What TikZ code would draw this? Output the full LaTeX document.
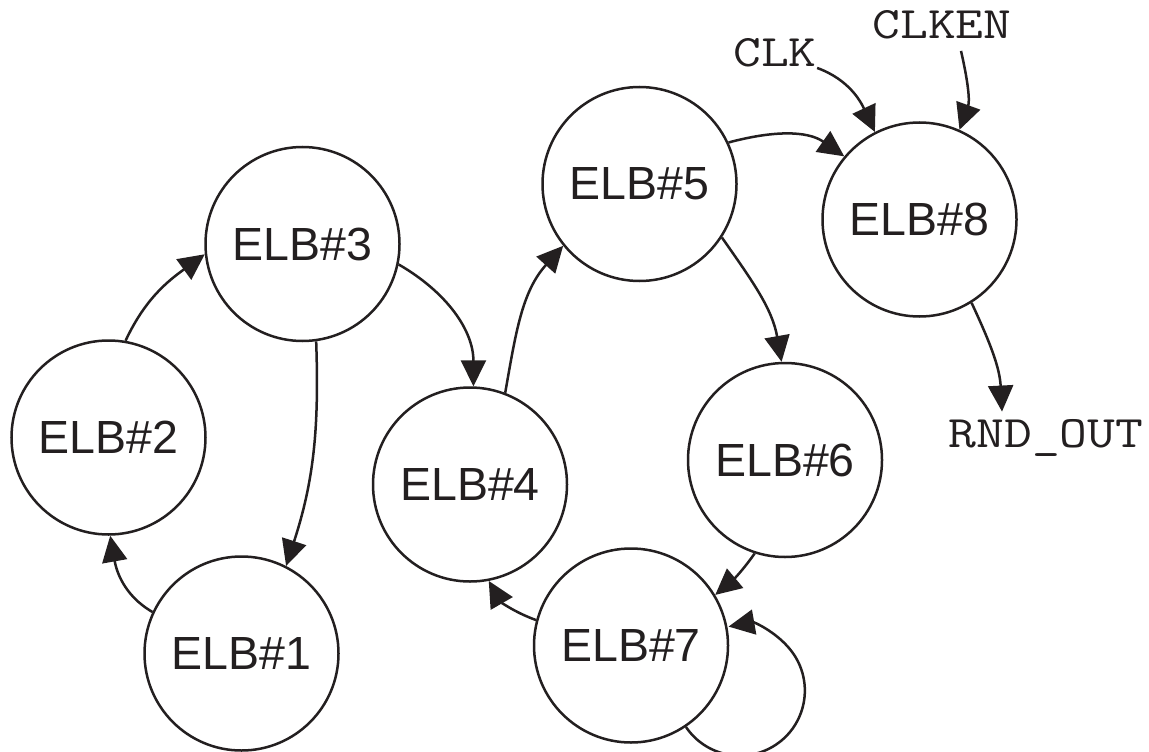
\documentclass[tikz,border=0pt]{standalone}
\usepackage{fontspec}
\setmainfont{Liberation Sans}
\newfontfamily\monofont[FakeStretch=1.2]{Latin Modern Mono}
\usetikzlibrary{arrows.meta}
\definecolor{ink}{HTML}{231F20}
\begin{document}
\begin{tikzpicture}[x=0.5pt, y=0.5pt,
  elb/.style={circle, draw=ink, line width=1.25pt, minimum size=97pt, inner sep=0pt,
    text=ink, font=\fontsize{23.25}{28}\selectfont},
  sig/.style={inner sep=0pt, anchor=base, text=ink,
    font=\monofont\fontsize{22.5}{27}\selectfont},
  link/.style={draw=ink, line width=1.25pt, -{Triangle[length=13pt, width=12.5pt]}}]
\fill[white] (0,0) rectangle (1149,751);
\useasboundingbox (0,0) rectangle (1149,751);

% ring elements
\node[elb] (e1) at (241.5,97.5) {ELB\#1};
\node[elb] (e2) at (108.5,313.5) {ELB\#2};
\node[elb] (e3) at (302.5,507) {ELB\#3};
\node[elb] (e4) at (470,266.5) {ELB\#4};
\node[elb] (e5) at (639.5,567) {ELB\#5};
\node[elb] (e6) at (785,291) {ELB\#6};
\node[elb] (e7) at (631,105.5) {ELB\#7};
\node[elb] (e8) at (919.5,531.5) {ELB\#8};

% external signals
\node[sig] (clk) at (775,684) {CLK};
\node[sig] (clken) at (942,712) {CLKEN};
\node[sig] (rnd) at (1046,304) {RND\_OUT};
\coordinate (rndin) at ([shift={(-22pt,3.5pt)}]rnd.north);

% connections
\draw[link] (e1.155) to[out=150,in=-80] (e2.-89);
\draw[link] (e2.80) to[out=65,in=-144] (e3.186);
\draw[link] (e3.-82) to[out=-88,in=72] (e1.63);
\draw[link] (e3.-12.5) to[out=-30,in=90] (e4.88);
\draw[link] (e4.69) to[out=80,in=-132] (e5.219);
\draw[link] (e5.25) to[out=15,in=145] (e8.140);
\draw[link] (e5.-33) to[out=-55,in=100] (e6.92);
\draw[link] (e6.-108) to[out=-125,in=40] (e7.31.6);
\draw[link] (e7.165) to[out=160,in=-60] (e4.-79);
% self-loop of ELB#7, drawn as a circular arc back onto its own border
\draw[link] (e7.-56) arc[start angle=214, end angle=460, radius=65];
\draw[link] (e8.-58) to[out=-65,in=93] (rndin);
\draw[link] (clk.south east) to[out=-20,in=115] (e8.117.7);
\draw[link] ([shift={(9.5pt,-5.5pt)}]clken.south) to[out=-77,in=70] (e8.66);
\end{tikzpicture}
\end{document}
